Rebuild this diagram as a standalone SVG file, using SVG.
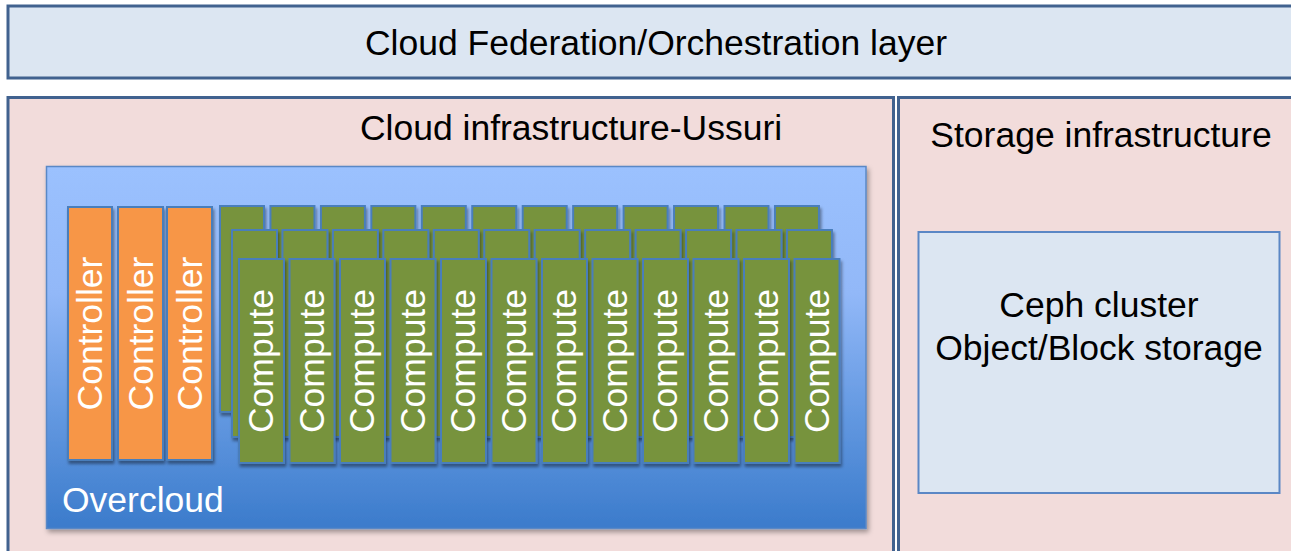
<svg xmlns="http://www.w3.org/2000/svg" width="1291" height="551" viewBox="0 0 1291 551">
<style>
  .lbl { font-family: "Liberation Sans", Arial, sans-serif; font-size: 35.5px; fill: #000; }
  .wlbl { font-family: "Liberation Sans", Arial, sans-serif; font-size: 35.5px; fill: #fff; }
  .outer { stroke: #41628f; stroke-width: 3; }
  .tile { stroke: #4a7ebb; stroke-width: 2; filter: url(#sh); }
  .ctrl { fill: #f79646; }
  .comp { fill: #77933c; }
</style>
<defs>
  <linearGradient id="oc" x1="0" y1="0" x2="0" y2="1">
    <stop offset="0" stop-color="#9bc1fe"/>
    <stop offset="0.35" stop-color="#92b8f8"/>
    <stop offset="0.7" stop-color="#6197e0"/>
    <stop offset="1" stop-color="#3b7bcb"/>
  </linearGradient>
  <filter id="sh" x="-20%" y="-10%" width="150%" height="130%">
    <feDropShadow dx="1.5" dy="3" stdDeviation="1.8" flood-color="#000" flood-opacity="0.4"/>
  </filter>
  <filter id="sh2" x="-5%" y="-5%" width="110%" height="115%">
    <feDropShadow dx="2" dy="3" stdDeviation="2.5" flood-color="#000" flood-opacity="0.35"/>
  </filter>
</defs>
<rect width="1291" height="551" fill="#fff"/>

<g id="federation">
  <rect class="outer" x="8" y="6" width="1300" height="72" fill="#dce6f2"/>
  <text class="lbl" x="656" y="55" text-anchor="middle">Cloud Federation/Orchestration layer</text>
</g>

<g id="cloud-infra">
  <rect class="outer" x="8" y="97.5" width="885.5" height="470" fill="#f2dcdb"/>
  <text class="lbl" x="571" y="140" text-anchor="middle">Cloud infrastructure-Ussuri</text>
</g>

<g id="storage-infra">
  <rect class="outer" x="898.5" y="97.5" width="500" height="470" fill="#f2dcdb"/>
  <text class="lbl" x="1101" y="146.5" text-anchor="middle">Storage infrastructure</text>
</g>

<g id="ceph">
  <rect x="918.5" y="232" width="361" height="261" fill="#dce6f2" stroke="#5b87c5" stroke-width="2"/>
  <text class="lbl" x="1099" y="317" text-anchor="middle">Ceph cluster</text>
  <text class="lbl" x="1099" y="360" text-anchor="middle">Object/Block storage</text>
</g>

<g id="overcloud">
  <rect x="46.5" y="166.5" width="819.5" height="362" fill="url(#oc)" stroke="#5a88c6" stroke-width="1.5" filter="url(#sh2)"/>
  <text class="wlbl" x="62" y="512">Overcloud</text>
</g>

<g id="controllers">
  <g id="controller-1">
    <rect class="tile ctrl" x="68" y="207" width="44" height="253"/>
    <text class="wlbl" transform="translate(90,333.5) rotate(-90)" x="0" y="12" text-anchor="middle">Controller</text>
  </g>
  <g id="controller-2">
    <rect class="tile ctrl" x="118" y="207" width="45" height="253"/>
    <text class="wlbl" transform="translate(140.5,333.5) rotate(-90)" x="0" y="12" text-anchor="middle">Controller</text>
  </g>
  <g id="controller-3">
    <rect class="tile ctrl" x="167" y="207" width="45" height="253"/>
    <text class="wlbl" transform="translate(189.5,333.5) rotate(-90)" x="0" y="12" text-anchor="middle">Controller</text>
  </g>
</g>

<g id="compute-row-back">
  <rect class="tile comp" x="220" y="206" width="44" height="206"/>
  <rect class="tile comp" x="270.45" y="206" width="44" height="206"/>
  <rect class="tile comp" x="320.9" y="206" width="44" height="206"/>
  <rect class="tile comp" x="371.35" y="206" width="44" height="206"/>
  <rect class="tile comp" x="421.8" y="206" width="44" height="206"/>
  <rect class="tile comp" x="472.25" y="206" width="44" height="206"/>
  <rect class="tile comp" x="522.7" y="206" width="44" height="206"/>
  <rect class="tile comp" x="573.15" y="206" width="44" height="206"/>
  <rect class="tile comp" x="623.6" y="206" width="44" height="206"/>
  <rect class="tile comp" x="674.05" y="206" width="44" height="206"/>
  <rect class="tile comp" x="724.5" y="206" width="44" height="206"/>
  <rect class="tile comp" x="774.95" y="206" width="44" height="206"/>
</g>

<g id="compute-row-middle">
  <rect class="tile comp" x="232" y="230" width="45" height="207"/>
  <rect class="tile comp" x="282.45" y="230" width="45" height="207"/>
  <rect class="tile comp" x="332.9" y="230" width="45" height="207"/>
  <rect class="tile comp" x="383.35" y="230" width="45" height="207"/>
  <rect class="tile comp" x="433.8" y="230" width="45" height="207"/>
  <rect class="tile comp" x="484.25" y="230" width="45" height="207"/>
  <rect class="tile comp" x="534.7" y="230" width="45" height="207"/>
  <rect class="tile comp" x="585.15" y="230" width="45" height="207"/>
  <rect class="tile comp" x="635.6" y="230" width="45" height="207"/>
  <rect class="tile comp" x="686.05" y="230" width="45" height="207"/>
  <rect class="tile comp" x="736.5" y="230" width="45" height="207"/>
  <rect class="tile comp" x="786.95" y="230" width="45" height="207"/>
</g>

<g id="compute-row-front">
  <g id="compute-1"><rect class="tile comp" x="239" y="259" width="45" height="204"/><text class="wlbl" transform="translate(261.5,361) rotate(-90)" y="11.5" text-anchor="middle">Compute</text></g>
  <g id="compute-2"><rect class="tile comp" x="289.5" y="259" width="45" height="204"/><text class="wlbl" transform="translate(312,361) rotate(-90)" y="11.5" text-anchor="middle">Compute</text></g>
  <g id="compute-3"><rect class="tile comp" x="340" y="259" width="45" height="204"/><text class="wlbl" transform="translate(362.5,361) rotate(-90)" y="11.5" text-anchor="middle">Compute</text></g>
  <g id="compute-4"><rect class="tile comp" x="390.5" y="259" width="45" height="204"/><text class="wlbl" transform="translate(413,361) rotate(-90)" y="11.5" text-anchor="middle">Compute</text></g>
  <g id="compute-5"><rect class="tile comp" x="441" y="259" width="45" height="204"/><text class="wlbl" transform="translate(463.5,361) rotate(-90)" y="11.5" text-anchor="middle">Compute</text></g>
  <g id="compute-6"><rect class="tile comp" x="491.5" y="259" width="45" height="204"/><text class="wlbl" transform="translate(514,361) rotate(-90)" y="11.5" text-anchor="middle">Compute</text></g>
  <g id="compute-7"><rect class="tile comp" x="542" y="259" width="45" height="204"/><text class="wlbl" transform="translate(564.5,361) rotate(-90)" y="11.5" text-anchor="middle">Compute</text></g>
  <g id="compute-8"><rect class="tile comp" x="592.5" y="259" width="45" height="204"/><text class="wlbl" transform="translate(615,361) rotate(-90)" y="11.5" text-anchor="middle">Compute</text></g>
  <g id="compute-9"><rect class="tile comp" x="643" y="259" width="45" height="204"/><text class="wlbl" transform="translate(665.5,361) rotate(-90)" y="11.5" text-anchor="middle">Compute</text></g>
  <g id="compute-10"><rect class="tile comp" x="693.5" y="259" width="45" height="204"/><text class="wlbl" transform="translate(716,361) rotate(-90)" y="11.5" text-anchor="middle">Compute</text></g>
  <g id="compute-11"><rect class="tile comp" x="744" y="259" width="45" height="204"/><text class="wlbl" transform="translate(766.5,361) rotate(-90)" y="11.5" text-anchor="middle">Compute</text></g>
  <g id="compute-12"><rect class="tile comp" x="794.5" y="259" width="45" height="204"/><text class="wlbl" transform="translate(817,361) rotate(-90)" y="11.5" text-anchor="middle">Compute</text></g>
</g>

<g id="connectors"></g>
</svg>
